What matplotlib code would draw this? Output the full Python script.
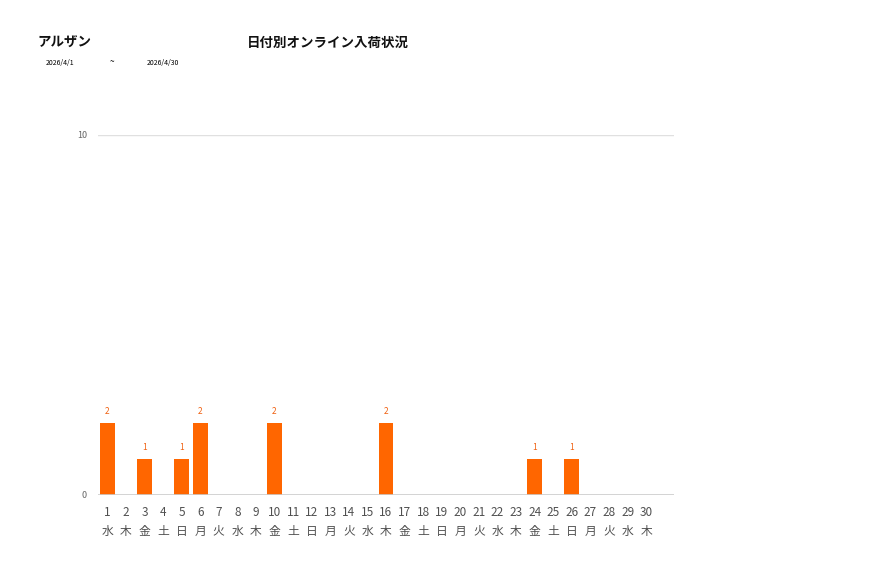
import numpy as np
import matplotlib.pyplot as plt

plt.rcParams['font.family'] = ['Noto Sans CJK JP', 'DejaVu Sans']

# data
days = list(range(1, 31))
weekdays = ["水", "木", "金", "土", "日", "月", "火"] * 5
weekdays = weekdays[:30]
counts = [2, 0, 1, 0, 1, 2, 0, 0, 0, 2,
          0, 0, 0, 0, 0, 2, 0, 0, 0, 0,
          0, 0, 0, 1, 0, 1, 0, 0, 0, 0]
shop = "アルザン"
title = "日付別オンライン入荷状況"
date_from = "2026/4/1"
date_to = "2026/4/30"

W, H = 877, 578
fig = plt.figure(figsize=(W / 100, H / 100), dpi=100)
ax = fig.add_axes([98 / W, 1 - 495 / H, (674 - 98) / W, (495 - 135) / H])

x = np.arange(len(days))
ax.bar(x, counts, width=0.8, color='#FF6600', zorder=3)
for xi, c in zip(x, counts):
    if c > 0:
        ax.text(xi, c + 0.2, str(c), ha='center', va='bottom',
                fontsize=6, color='#F06010')

ax.set_xlim(-0.5, 30.5)
ax.set_ylim(0, 10)
ax.set_yticks([0, 10])
ax.set_yticklabels(["0", "10"], fontsize=6.5, color='#666666')
ax.axhline(10, color='#E0E0E0', lw=1, zorder=1)
ax.axhline(0, color='#CCCCCC', lw=1.2, zorder=4)

ax.set_xticks(x)
ax.set_xticklabels([f"{d}\n{w}" for d, w in zip(days, weekdays)],
                   fontsize=8.5, color='#505050', linespacing=1.55)
ax.tick_params(axis='both', length=0)
ax.tick_params(axis='x', pad=8)
ax.tick_params(axis='y', pad=8)
for s in ax.spines.values():
    s.set_visible(False)

fig.text(37 / W, 1 - 43 / H, shop, fontsize=9.7, fontweight='bold',
         va='center', ha='left', color='#111111')
fig.text(247 / W, 1 - 43 / H, title, fontsize=9.7, fontweight='bold',
         va='center', ha='left', color='#111111')
fig.text(46 / W, 1 - 63 / H, date_from, fontsize=5, va='center', ha='left')
fig.text(110 / W, 1 - 62 / H, "~", fontsize=6, va='center', ha='left')
fig.text(147 / W, 1 - 63 / H, date_to, fontsize=5, va='center', ha='left')

fig.savefig("out.png", dpi=100)
